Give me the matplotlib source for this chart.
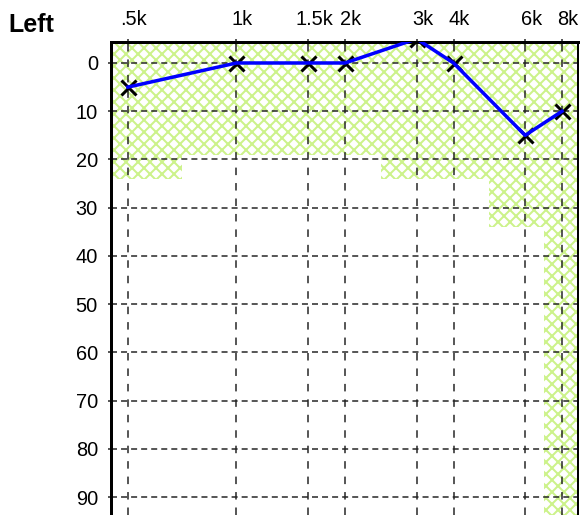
import matplotlib
matplotlib.use('Agg')
import matplotlib.pyplot as plt
import matplotlib.transforms as mtransforms
import numpy as np

plt.rcParams['font.family'] = ['Liberation Sans', 'DejaVu Sans']
plt.rcParams['hatch.color'] = '#ccf28a'
plt.rcParams['hatch.linewidth'] = 2.0

# audiogram data (left ear, dB HL)
freq_labels = ['.5k', '1k', '1.5k', '2k', '3k', '4k', '6k', '8k']
freq_pos = [0, 1, 1.66, 2, 2.66, 3, 3.66, 4]
left_db = [5, 0, 0, 0, -5, 0, 15, 10]
# depth of the hatched (normal range) band for each frequency
band_db = [24, 19, 19, 19, 24, 24, 34, 120]
db_ticks = [0, 10, 20, 30, 40, 50, 60, 70, 80, 90]

W, H, DPI = 580, 515, 72
fig = plt.figure(figsize=(W / DPI, H / DPI), dpi=DPI)
ax = fig.add_axes([111 / W, 0, (578 - 111) / W, (H - 42) / H])

xmin, xmax = -0.156, 4.147
ymin, ymax = -4.35, 93.7
ax.set_xlim(xmin, xmax)
ax.set_ylim(ymax, ymin)

# hatched band, steps change halfway between frequencies
pos = np.array(freq_pos)
edges = np.concatenate([[xmin], (pos[:-1] + pos[1:]) / 2, [xmax]])
depth = np.append(band_db, band_db[-1])
ax.fill_between(edges, ymin - 5, depth, step='post', facecolor='none',
                edgecolor='#ccf28a', hatch='xx', linewidth=0, zorder=1)

ax.plot(freq_pos, left_db, 'x', color='black', ms=15, mew=3, zorder=3)
ax.plot(freq_pos, left_db, color='#0000ff', lw=3.5, zorder=4)

ax.set_xticks(freq_pos)
ax.set_xticklabels(freq_labels)
ax.set_yticks(db_ticks)
ax.xaxis.tick_top()
ax.tick_params(axis='x', length=3, width=1.5, pad=10, labelsize=20, color='#222')
ax.tick_params(axis='y', length=3, width=1.5, pad=10, labelsize=20, color='#222')
shift = mtransforms.ScaledTranslation(6 / DPI, 0, fig.dpi_scale_trans)
for lbl in ax.get_xticklabels():
    lbl.set_transform(lbl.get_transform() + shift)

ax.yaxis.grid(True, color='#222', lw=1.5, linestyle=(0, (4, 2.7)))
ax.xaxis.grid(True, color='#222', lw=1.5, linestyle=(0, (5, 5.3)))

ax.spines['bottom'].set_visible(False)
ax.spines['left'].set_linewidth(3)
ax.spines['top'].set_linewidth(3)
ax.spines['right'].set_linewidth(2)

fig.text(8 / W, 1 - 32 / H, 'Left', fontsize=25, fontweight='bold', va='baseline')

fig.savefig('out.png', dpi=DPI, facecolor='white')
